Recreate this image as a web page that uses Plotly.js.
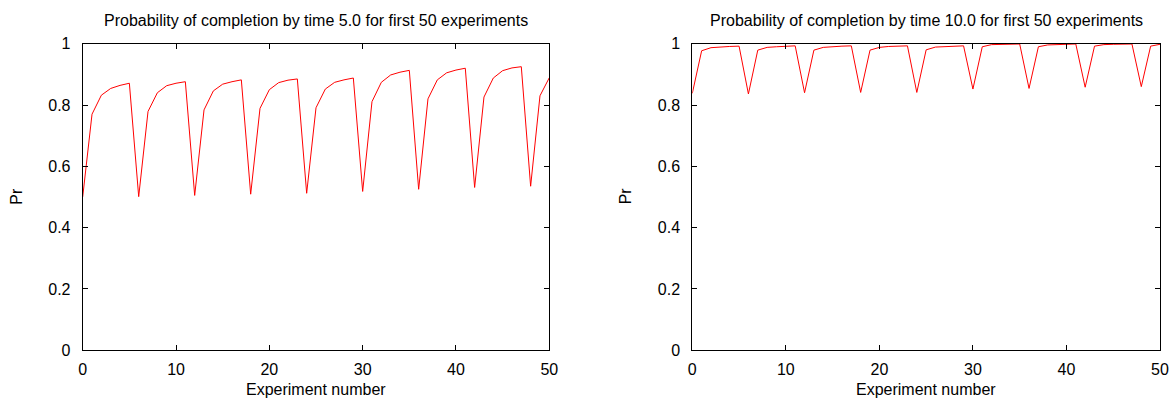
<!DOCTYPE html>
<html>
<head>
<meta charset="utf-8">
<script src="https://cdn.plot.ly/plotly-3.0.1.min.js"></script>
<style>html,body{margin:0;padding:0;background:#fff;}#chart{width:1172px;height:399px;}</style>
</head>
<body>
<div id="chart"></div>
<script>
// Experiment numbers 0..50
const experiments = [0,1,2,3,4,5,6,7,8,9,10,11,12,13,14,15,16,17,18,19,20,21,22,23,24,25,26,27,28,29,30,31,32,33,34,35,36,37,38,39,40,41,42,43,44,45,46,47,48,49,50];

// Probability of completion by time 5.0
const prTime5 = [
  0.500,0.770,0.832,0.854,0.864,0.871,
  0.501,0.779,0.840,0.863,0.871,0.876,
  0.505,0.784,0.846,0.868,0.876,0.882,
  0.509,0.789,0.850,0.873,0.881,0.885,
  0.512,0.791,0.852,0.874,0.882,0.888,
  0.518,0.811,0.874,0.898,0.907,0.913,
  0.525,0.820,0.882,0.905,0.914,0.920,
  0.531,0.826,0.888,0.912,0.921,0.925,
  0.535,0.830,0.889
];

// Probability of completion by time 10.0
const prTime10 = [
  0.838,0.977,0.987,0.990,0.991,0.992,
  0.836,0.979,0.988,0.990,0.992,0.993,
  0.840,0.979,0.988,0.991,0.992,0.993,
  0.841,0.979,0.988,0.991,0.992,0.993,
  0.841,0.980,0.989,0.991,0.992,0.993,
  0.852,0.990,0.997,0.998,0.999,0.999,
  0.854,0.990,0.996,0.998,0.998,0.999,
  0.858,0.992,0.997,0.998,0.999,0.999,
  0.860,0.992,0.998
];

const titles = [
  "Probability of completion by time 5.0 for first 50 experiments",
  "Probability of completion by time 10.0 for first 50 experiments"
];
const xAxisTitle = "Experiment number";
const yAxisTitle = "Pr";
const xTickVals = [0,10,20,30,40,50];
const yTickVals = [0,0.2,0.4,0.6,0.8,1];
const yTickText = ["0","0.2","0.4","0.6","0.8","1"];

const FONT = "Liberation Sans, Arial, sans-serif";
const FS = 16;
const W = 1172, H = 399;
const yDom = [1 - 350.2/H, 1 - 43.7/H];
const xDom1 = [82.7/W, 549.3/W];
const xDom2 = [692.3/W, 1160/W];

function xAxis(domain, anchor) {
  return {
    domain: domain, anchor: anchor, range: [0, 50],
    tickvals: xTickVals, ticktext: xTickVals.map(String),
    ticks: 'inside', ticklen: 5, tickcolor: '#000', tickwidth: 1,
    showline: true, linecolor: '#000', linewidth: 1, mirror: 'ticks',
    showgrid: false, zeroline: false, ticklabelstandoff: 5,
    tickfont: {family: FONT, size: FS, color: '#000'}
  };
}
function yAxis(domain, anchor) {
  return {
    domain: domain, anchor: anchor, range: [0, 1],
    tickvals: yTickVals, ticktext: yTickText,
    ticks: 'inside', ticklen: 5, tickcolor: '#000', tickwidth: 1,
    showline: true, linecolor: '#000', linewidth: 1, mirror: 'ticks',
    showgrid: false, zeroline: false, ticklabelstandoff: 8,
    tickfont: {family: FONT, size: FS, color: '#000'}
  };
}

const traces = [
  {x: experiments, y: prTime5, type: 'scatter', mode: 'lines', line: {color: '#ff0000', width: 1}, xaxis: 'x', yaxis: 'y', hoverinfo: 'skip'},
  {x: experiments, y: prTime10, type: 'scatter', mode: 'lines', line: {color: '#ff0000', width: 1}, xaxis: 'x2', yaxis: 'y2', hoverinfo: 'skip'}
];

function ann(text, x, yPx, angle) {
  return {text: text, xref: 'paper', yref: 'paper', x: x, y: 1 - yPx/H,
    xanchor: 'center', yanchor: 'middle', showarrow: false, textangle: angle || 0,
    font: {family: FONT, size: FS, color: '#000'}};
}

const layout = {
  width: W, height: H,
  margin: {l: 0, r: 0, t: 0, b: 0},
  paper_bgcolor: '#fff', plot_bgcolor: '#fff',
  showlegend: false,
  font: {family: FONT, size: FS, color: '#000'},
  xaxis: xAxis(xDom1, 'y'),
  yaxis: yAxis(yDom, 'x'),
  xaxis2: xAxis(xDom2, 'y2'),
  yaxis2: yAxis(yDom, 'x2'),
  annotations: [
    ann(titles[0], (xDom1[0]+xDom1[1])/2, 20),
    ann(titles[1], (xDom2[0]+xDom2[1])/2, 20),
    ann(xAxisTitle, (xDom1[0]+xDom1[1])/2, 389),
    ann(xAxisTitle, (xDom2[0]+xDom2[1])/2, 389),
    ann(yAxisTitle, 15.7/W, 196, -90),
    ann(yAxisTitle, 625.3/W, 196, -90)
  ]
};

Plotly.newPlot('chart', traces, layout, {staticPlot: true, displayModeBar: false});
</script>
</body>
</html>
